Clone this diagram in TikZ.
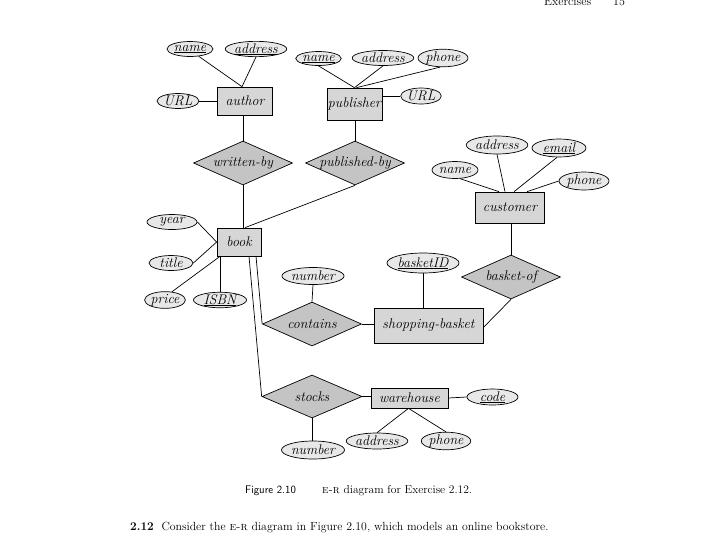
\documentclass[tikz,border=0pt]{standalone}
\usetikzlibrary{shapes.geometric}
\definecolor{entfill}{gray}{0.84}
\definecolor{relfill}{gray}{0.77}
\definecolor{attfill}{gray}{0.91}
\newcommand\ulkey[1]{\setbox0\hbox{#1}\rlap{\rule[-1.1pt]{\wd0}{0.5pt}}\box0}
\begin{document}
\begin{tikzpicture}[x=1pt,y=-1pt,
  every node/.style={font=\fontsize{14}{16}\selectfont\itshape, inner sep=0pt},
  ent/.style={draw, fill=entfill, rectangle, line width=0.7pt},
  rel/.style={draw, fill=relfill, diamond, minimum width=99pt, minimum height=44pt, line width=0.7pt},
  att/.style={draw, fill=attfill, ellipse, line width=0.7pt},
  conn/.style={line width=0.7pt},
  plain/.style={font=\fontsize{11.5}{14}\selectfont\upshape, anchor=base west}]
\useasboundingbox (0,0) rectangle (714,536);
% header
\node[plain, font=\fontsize{12}{14}\selectfont\upshape] (hdr) at (544,5) {Exercises};
\node[plain, font=\fontsize{12}{14}\selectfont\upshape] (hdrnum) at (613,5) {15};
% entities
\node[ent, minimum width=55pt, minimum height=28pt] (author) at (245,101) {author};
\node[ent, minimum width=55pt, minimum height=32pt] (publisher) at (354.5,104) {publisher};
\node[ent, minimum width=44pt, minimum height=28pt] (book) at (239,242) {book};
\node[ent, minimum width=69pt, minimum height=31pt] (customer) at (510,207.5) {customer};
\node[ent, minimum width=109pt, minimum height=35pt] (sb) at (428.5,325.5) {shopping-basket};
\node[ent, minimum width=77pt, minimum height=20pt] (wh) at (409.5,398) {warehouse};
% relationships
\node[rel, label={center:written-by}] (wb) at (243,163) {};
\node[rel, label={center:published-by}] (pb) at (355,163) {};
\node[rel, label={center:contains}] (contains) at (312,324) {};
\node[rel, label={center:basket-of}] (bo) at (511,277) {};
\node[rel, minimum width=100pt, minimum height=43pt, label={center:stocks}] (stocks) at (312,396.5) {};
% author attributes
\node[att, minimum width=46pt, minimum height=15pt] (aname) at (190,49) {\ulkey{name}};
\node[att, minimum width=61pt, minimum height=15pt] (aaddr) at (256,49) {\ulkey{address}};
\node[att, minimum width=42pt, minimum height=15pt] (aurl) at (178,101) {URL};
% publisher attributes
\node[att, minimum width=38pt, minimum height=14pt] (pname) at (318.5,58.5) {\ulkey{name}};
\node[att, minimum width=54pt, minimum height=15pt] (paddr) at (383,58) {address};
\node[att, minimum width=50pt, minimum height=15pt] (pphone) at (443,58) {phone};
\node[att, minimum width=37pt, minimum height=16pt] (purl) at (421,96) {URL};
% book attributes
\node[att, minimum width=50pt, minimum height=15pt] (year) at (172,222) {year};
\node[att, minimum width=44pt, minimum height=15pt] (title) at (171,263) {title};
\node[att, minimum width=40pt, minimum height=15pt] (price) at (165,300) {price};
\node[att, minimum width=53pt, minimum height=15pt] (isbn) at (220,300) {\ulkey{ISBN}};
% customer attributes
\node[att, minimum width=46pt, minimum height=17pt] (cname) at (455,170) {name};
\node[att, minimum width=54pt, minimum height=18pt] (caddr) at (497,145) {address};
\node[att, minimum width=54pt, minimum height=18pt] (cemail) at (559,148) {\ulkey{email}};
\node[att, minimum width=50pt, minimum height=18pt] (cphone) at (584,181) {phone};
% relationship attributes
\node[att, minimum width=62pt, minimum height=17pt] (num1) at (313,276) {number};
\node[att, minimum width=63pt, minimum height=20pt] (bid) at (423,263) {\ulkey{basketID}};
\node[att, minimum width=63pt, minimum height=18pt] (num2) at (313,450) {number};
% warehouse attributes
\node[att, minimum width=51pt, minimum height=16pt] (code) at (492.5,397) {\ulkey{code}};
\node[att, minimum width=55pt, minimum height=16pt] (waddr) at (377,441) {address};
\node[att, minimum width=47pt, minimum height=16pt] (wphone) at (446,441) {phone};
% connectors
\draw[conn] (aname.-40) -- ([xshift=-3pt]author.north);
\draw[conn] (aaddr.south) -- ([xshift=-3pt]author.north);
\draw[conn] (aurl.east) -- (author.west);
\draw[conn] (pname.south) -- (publisher.north);
\draw[conn] (paddr.south) -- (publisher.north);
\draw[conn] ([xshift=-3pt]pphone.south) -- ([xshift=2pt]publisher.north);
\draw[conn] (purl.west) -- (purl.west -| publisher.east);
\draw[conn] (wb.north) -- (wb.north |- author.south);
\draw[conn] (pb.north) -- (pb.north |- publisher.south);
\draw[conn] (wb.south) -- (wb.south |- book.north);
\draw[conn] (pb.south) -- ([xshift=6pt]book.north);
\draw[conn] (year.east) -- (book.west);
\draw[conn] (title.east) -- (book.west);
\draw[conn] (price.50) -- ([xshift=-19pt]book.south);
\draw[conn] (isbn.north) -- (isbn.north |- book.south);
\draw[conn] ([xshift=17pt]book.south) -- (contains.west);
\draw[conn] ([xshift=10pt]book.south) -- (stocks.west);
\draw[conn] (num1.south) -- (contains.north);
\draw[conn] (contains.east) -- (contains.east -| sb.west);
\draw[conn] (bid.south) -- (bid.south |- sb.north);
\draw[conn] (bo.north) -- (bo.north |- customer.south);
\draw[conn] (bo.south) -- ([yshift=-2pt]sb.east);
\draw[conn] (cname.-60) -- ([xshift=-11pt]customer.north);
\draw[conn] (caddr.south) -- ([xshift=-5pt]customer.north);
\draw[conn] ([xshift=-2pt]cemail.south) -- ([xshift=4pt]customer.north);
\draw[conn] (cphone.west) -- ([xshift=17pt]customer.north);
\draw[conn] (stocks.east) -- (stocks.east -| wh.west);
\draw[conn] (wh.east) -- (code.west);
\draw[conn] (stocks.south) -- (stocks.south |- num2.north);
\draw[conn] ([xshift=-1pt]wh.south) -- (waddr.north);
\draw[conn] ([xshift=-1pt]wh.south) -- (wphone.north);
% captions
\node[plain, font=\fontsize{11}{13}\selectfont\sffamily] (figlab) at (245,493) {Figure 2.10};
\node[plain, font=\fontsize{11.5}{13}\selectfont\upshape] (figcap) at (322,493) {\textsc{e-r} diagram for Exercise 2.12.};
\node[plain, font=\fontsize{11.8}{14}\selectfont\upshape] (exer) at (130,530) {\textbf{2.12}\ \ Consider the \textsc{e-r} diagram in Figure 2.10, which models an online bookstore.};
\end{tikzpicture}
\end{document}
